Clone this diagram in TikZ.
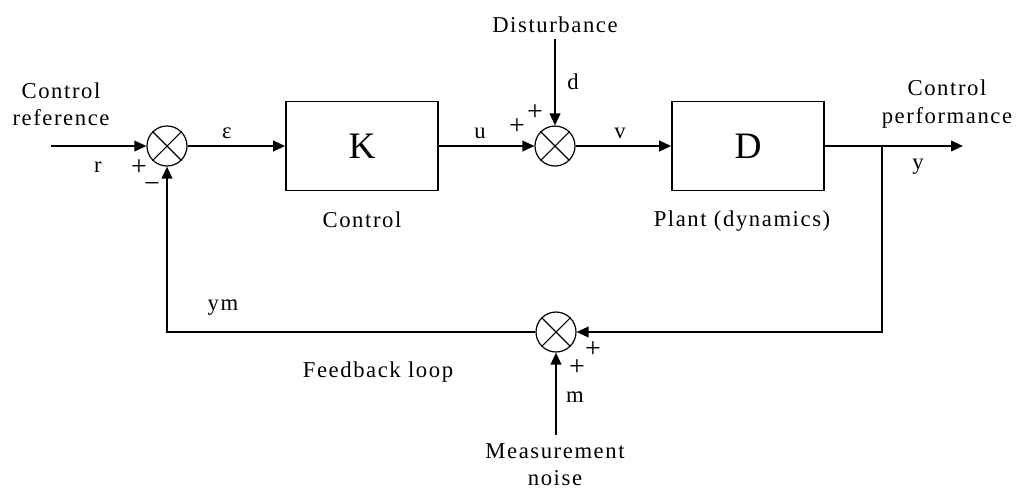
\documentclass[tikz,border=0pt]{standalone}
\usepackage{fontspec}
\setmainfont{Liberation Serif}[LetterSpace=7]
\usetikzlibrary{arrows.meta,positioning}

\begin{document}
\begin{tikzpicture}[x=0.75pt, y=-0.75pt, >={Triangle[length=9pt,width=8pt]},
  line width=1.3pt,
  block/.style={draw, minimum width=114pt, minimum height=66.75pt, inner sep=0pt, font=\fontsize{28}{30}\selectfont},
  sum/.style={draw, circle, minimum size=30pt, inner sep=0pt, line width=0.9pt},
  lbl/.style={font=\fontsize{17}{20.5}\selectfont, align=center, inner sep=0pt},
  sgn/.style={font=\fontsize{21}{21}\selectfont, inner sep=0pt}]
\useasboundingbox (0,0) rectangle (1016,490);
% blocks and summing points
\node[sum] (s1) at (167,146) {};
\node[block] (k) at (362,146) {K};
\node[sum] (s2) at (555,146) {};
\node[block] (d) at (748,146) {D};
\node[sum] (s3) at (556,332) {};
\foreach \s in {s1,s2,s3}
  \draw[line width=0.8pt] (\s.north east) -- (\s.south west) (\s.north west) -- (\s.south east);
% free ends
\coordinate (ref) at (51,146);
\coordinate (out) at (963,146);
\coordinate (br) at (882,146);
\coordinate (dtop) at (555,39);
\coordinate (mbot) at (556,435);
% texts
\node[lbl] (rtxt) at (61,104) {Control\\reference};
\node[lbl] (ptxt) at (947,104) {Control\\performance};
\node[lbl] (dtxt) at (555,25) {Disturbance};
\node[lbl] (mtxt) at (555,465) {Measurement\\noise};
\node[lbl] (ktxt) at (362,220) {Control};
\node[lbl] (ptxt2) at (742,221) {Plant (dynamics)};
\node[lbl] (ftxt) at (378,372) {Feedback loop};
% signal names
\node[lbl] (rl) at (98,167) {r};
\node[lbl] (el) at (227,133) {ε};
\node[lbl] (ul) at (480,133) {u};
\node[lbl] (dl) at (573,82) {d};
\node[lbl] (vl) at (620,133) {v};
\node[lbl] (yl) at (918,167) {y};
\node[lbl] (yml) at (223,308) {ym};
\node[lbl] (ml) at (575,397) {m};
% signs
\node[sgn] at (139,168) {+};
\node[sgn] at (152,187) {−};
\node[sgn] at (517,127) {+};
\node[sgn] at (535,113) {+};
\node[sgn] at (593,350) {+};
\node[sgn] at (577,368) {+};
% connectors
\draw[->] (ref) -- (s1);
\draw[->] (s1) -- (k);
\draw[->] (k) -- (s2);
\draw[->] (dtop) -- (s2);
\draw[->] (s2) -- (d);
\draw[->] (d) -- (out);
\draw[->] (br) |- (s3);
\draw[->] (mbot) -- (s3);
\draw[->] (s3) -| (s1);
\end{tikzpicture}
\end{document}
